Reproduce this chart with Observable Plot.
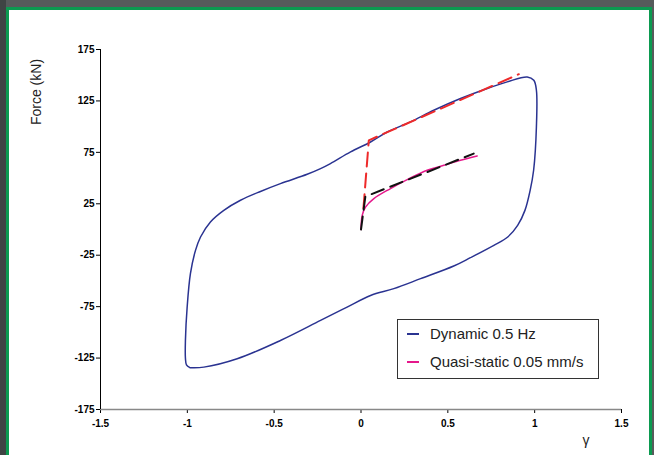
<!DOCTYPE html>
<html>
<head>
<meta charset="utf-8">
<script src="https://cdn.jsdelivr.net/npm/d3@7"></script>
<script src="https://cdn.jsdelivr.net/npm/@observablehq/plot@0.6"></script>
<style>
  html, body { margin: 0; padding: 0; }
  body { width: 654px; height: 455px; overflow: hidden; position: relative;
         background: linear-gradient(to right, #3f4444 0px, #3f4444 6px, #565b5b 6px); font-family: "Liberation Sans", Arial, sans-serif; }
  #frame { position: absolute; left: 6px; top: 7px; width: 640px; height: 460px; border: 3px solid #0b9a50; background: #fff; }
  #chart { position: absolute; left: 0; top: 0; }
  .lbl { position: absolute; font-size: 14px; color: #222; white-space: nowrap; }
  #ylab { left: 36px; top: 92px; transform: translate(-50%, -50%) rotate(-90deg); }
  #xlab { left: 586px; top: 440px; transform: translate(-50%, -50%); }
  #legend { position: absolute; left: 397px; top: 319px; width: 200px; height: 58px; border: 1px solid #333; background: #fff; }
  .item { position: absolute; left: 0; height: 18px; font-size: 15px; color: #222; }
  .swatch { position: absolute; left: 9px; top: 8px; width: 12px; height: 2px; }
  .item span.t { position: absolute; left: 32px; top: 0; line-height: 18px; white-space: nowrap; }
</style>
</head>
<body>
<div id="frame"></div>
<div id="chart"></div>
<div id="legend"></div>
<div class="lbl" id="ylab">Force (kN)</div>
<div class="lbl" id="xlab">γ</div>
<script>
// ---- data ----
const xTicks = [-1.5, -1, -0.5, 0, 0.5, 1, 1.5];
const xTickLabels = ["-1.5", "-1", "-0.5", "0", "0.5", "1", "1.5"];
const yTicks = [175, 125, 75, 25, -25, -75, -125, -175];
const yTickLabels = ["175", "125", "75", "25", "-25", "-75", "-125", "-175"];

// Dynamic 0.5 Hz hysteresis loop (gamma, force kN)
const dynGamma = [-0.985, -1.005, -1.011, -1.011, -1.001, -0.982, -0.953, -0.924, -0.867, -0.790,
  -0.694, -0.579, -0.464, -0.310, -0.233, -0.176, -0.060, 0.055, 0.151, 0.285,
  0.419, 0.573, 0.727, 0.842, 0.957, 0.995, 1.010, 1.010, 0.994, 0.974,
  0.944, 0.902, 0.845, 0.765, 0.630, 0.534, 0.343, 0.189, 0.055, -0.080,
  -0.233, -0.464, -0.713, -0.905, -0.985];
const dynForce = [-134.3, -131.5, -125.0, -107.9, -75.4, -42.7, -20.3, -7.3, 7.3, 18.6,
  28.4, 37.0, 44.6, 53.7, 59.2, 64.1, 75.4, 85.1, 94.8, 104.6,
  115.9, 127.3, 137.1, 143.5, 148.3, 145.1, 135.4, 99.7, 57.6, 38.1,
  18.6, 4.0, -7.3, -15.4, -27.4, -35.5, -47.8, -57.5, -64.1, -75.4,
  -88.4, -107.9, -125.7, -133.8, -134.3];

// Quasi-static 0.05 mm/s
const qsGamma = [0.0, 0.007, 0.026, 0.074, 0.170, 0.266, 0.381, 0.477, 0.573, 0.669];
const qsForce = [0.0, 13.8, 21.8, 30.0, 39.8, 48.5, 57.6, 62.4, 67.3, 71.5];

// Bilinear fits (dashed)
const redGamma = [0.014, 0.045, 0.909];
const redForce = [20.6, 86.7, 151.0];
const blackGamma = [0.0, 0.025, 0.649];
const blackForce = [0.0, 32.0, 73.8];

const seriesNames = ["Dynamic 0.5 Hz", "Quasi-static 0.05 mm/s"];
const seriesColors = ["#2a3391", "#e5188b"];

// ---- build tables ----
const zip = (g, f) => g.map((v, i) => ({g: v, f: f[i]}));
const dyn = zip(dynGamma, dynForce);
const qs = zip(qsGamma, qsForce);
const red = zip(redGamma, redForce);
const black = zip(blackGamma, blackForce);

const plot = Plot.plot({
  width: 654,
  height: 455,
  marginLeft: 100,
  marginRight: 33,
  marginTop: 49,
  marginBottom: 46,
  style: {background: "transparent", fontFamily: "'Liberation Sans', Arial, sans-serif", color: "#000"},
  x: {domain: [-1.5, 1.5]},
  y: {domain: [-175, 175]},
  marks: [
    Plot.axisX({ticks: xTicks, tickSize: 4, tickPadding: 6, fontSize: 10, fontWeight: "bold",
      tickFormat: d => xTickLabels[xTicks.indexOf(d)], label: null}),
    Plot.axisY({ticks: yTicks, tickSize: 4, tickPadding: 2, fontSize: 10, fontWeight: "bold",
      tickFormat: d => yTickLabels[yTicks.indexOf(d)], label: null}),
    Plot.ruleY([-175], {stroke: "#888", strokeWidth: 1.5}),
    Plot.ruleX([-1.5], {stroke: "#000", strokeWidth: 1}),
    Plot.line(dyn, {x: "g", y: "f", stroke: seriesColors[0], strokeWidth: 1.5, curve: "catmull-rom"}),
    Plot.line(red, {x: "g", y: "f", stroke: "#ee2a2a", strokeWidth: 2, strokeDasharray: "14,7"}),
    Plot.line(qs, {x: "g", y: "f", stroke: seriesColors[1], strokeWidth: 1.5, curve: "catmull-rom"}),
    Plot.line(black, {x: "g", y: "f", stroke: "#111", strokeWidth: 2, strokeDasharray: "13,7"})
  ]
});
document.getElementById("chart").appendChild(plot);

// legend
const legend = document.getElementById("legend");
seriesNames.forEach((name, i) => {
  const item = document.createElement("div");
  item.className = "item";
  item.style.top = (5 + i * 28) + "px";
  item.style.width = "100%";
  const sw = document.createElement("div");
  sw.className = "swatch";
  sw.style.background = seriesColors[i];
  const t = document.createElement("span");
  t.className = "t";
  t.textContent = name;
  item.appendChild(sw);
  item.appendChild(t);
  legend.appendChild(item);
});
</script>
</body>
</html>
